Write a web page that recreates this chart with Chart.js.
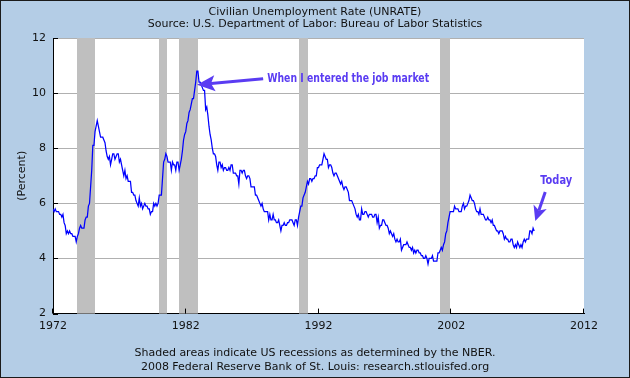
<!DOCTYPE html>
<html>
<head>
<meta charset="utf-8">
<title>Civilian Unemployment Rate</title>
<script src="https://cdn.jsdelivr.net/npm/chart.js@4"></script>
<style>
  html, body { margin: 0; padding: 0; background: #b4cde6; }
  #wrap { width: 630px; height: 378px; }
</style>
</head>
<body>
<div id="wrap"><canvas id="unrate" width="630" height="378"></canvas></div>
<script>
// monthly values, seasonally adjusted, starting Jan 1972
const startYear = 1972;
const rate1970s = [
  5.8, 5.7, 5.8, 5.7, 5.7, 5.7, 5.6, 5.6, 5.5, 5.6, 5.3, 5.2,
  4.9, 5.0, 4.9, 5.0, 4.9, 4.9, 4.8, 4.8, 4.8, 4.6, 4.8, 4.9,
  5.1, 5.2, 5.1, 5.1, 5.1, 5.4, 5.5, 5.5, 5.9, 6.0, 6.6, 7.2,
  8.1, 8.1, 8.6, 8.8, 9.0, 8.8, 8.6, 8.4, 8.4, 8.4, 8.3, 8.2,
  7.9, 7.7, 7.6, 7.7, 7.4, 7.6, 7.8, 7.8, 7.6, 7.7, 7.8, 7.8,
  7.5, 7.6, 7.4, 7.2, 7.0, 7.2, 6.9, 7.0, 6.8, 6.8, 6.8, 6.4,
  6.4, 6.3, 6.3, 6.1, 6.0, 5.9, 6.2, 5.9, 6.0, 5.8, 5.9, 6.0,
  5.9, 5.9, 5.8, 5.8, 5.6, 5.7, 5.7, 6.0, 5.9, 6.0, 5.9, 6.0
];
const rate1980s = [
  6.3, 6.3, 6.3, 6.9, 7.5, 7.6, 7.8, 7.7, 7.5, 7.5, 7.5, 7.2,
  7.5, 7.4, 7.4, 7.2, 7.5, 7.5, 7.2, 7.4, 7.6, 7.9, 8.3, 8.5,
  8.6, 8.9, 9.0, 9.3, 9.4, 9.6, 9.8, 9.8, 10.1, 10.4, 10.8, 10.8,
  10.4, 10.4, 10.3, 10.2, 10.1, 10.1, 9.4, 9.5, 9.2, 8.8, 8.5, 8.3,
  8.0, 7.8, 7.8, 7.7, 7.4, 7.2, 7.5, 7.5, 7.3, 7.4, 7.2, 7.3,
  7.3, 7.2, 7.2, 7.3, 7.2, 7.4, 7.4, 7.1, 7.1, 7.1, 7.0, 7.0,
  6.7, 7.2, 7.2, 7.1, 7.2, 7.2, 7.0, 6.9, 7.0, 7.0, 6.9, 6.6,
  6.6, 6.6, 6.6, 6.3, 6.3, 6.2, 6.1, 6.0, 5.9, 6.0, 5.8, 5.7,
  5.7, 5.7, 5.7, 5.4, 5.6, 5.4, 5.4, 5.6, 5.4, 5.4, 5.3, 5.3,
  5.4, 5.2, 5.0, 5.2, 5.2, 5.3, 5.2, 5.2, 5.3, 5.3, 5.4, 5.4
];
const rate1990s = [
  5.4, 5.3, 5.2, 5.4, 5.4, 5.2, 5.5, 5.7, 5.9, 5.9, 6.2, 6.3,
  6.4, 6.6, 6.8, 6.7, 6.9, 6.9, 6.8, 6.9, 6.9, 7.0, 7.0, 7.3,
  7.3, 7.4, 7.4, 7.4, 7.6, 7.8, 7.7, 7.6, 7.6, 7.3, 7.4, 7.4,
  7.3, 7.1, 7.0, 7.1, 7.1, 7.0, 6.9, 6.8, 6.7, 6.8, 6.6, 6.5,
  6.6, 6.6, 6.5, 6.4, 6.1, 6.1, 6.1, 6.0, 5.9, 5.8, 5.6, 5.5,
  5.6, 5.4, 5.4, 5.8, 5.6, 5.6, 5.7, 5.7, 5.6, 5.5, 5.6, 5.6,
  5.6, 5.5, 5.5, 5.6, 5.6, 5.3, 5.5, 5.1, 5.2, 5.2, 5.4, 5.4,
  5.3, 5.2, 5.2, 5.1, 4.9, 5.0, 4.9, 4.8, 4.9, 4.7, 4.6, 4.7,
  4.6, 4.6, 4.7, 4.3, 4.4, 4.5, 4.5, 4.5, 4.6, 4.5, 4.4, 4.4,
  4.3, 4.4, 4.2, 4.3, 4.2, 4.3, 4.3, 4.2, 4.2, 4.1, 4.1, 4.0
];
const rate2000s = [
  4.0, 4.1, 4.0, 3.8, 4.0, 4.0, 4.0, 4.1, 3.9, 3.9, 3.9, 3.9,
  4.2, 4.2, 4.3, 4.4, 4.3, 4.5, 4.6, 4.9, 5.0, 5.3, 5.5, 5.7,
  5.7, 5.7, 5.7, 5.9, 5.8, 5.8, 5.8, 5.7, 5.7, 5.7, 5.9, 6.0,
  5.8, 5.9, 5.9, 6.0, 6.1, 6.3, 6.2, 6.1, 6.1, 6.0, 5.8, 5.7,
  5.7, 5.6, 5.8, 5.6, 5.6, 5.6, 5.5, 5.4, 5.4, 5.5, 5.4, 5.4,
  5.3, 5.4, 5.2, 5.2, 5.1, 5.0, 5.0, 4.9, 5.0, 5.0, 5.0, 4.9,
  4.7, 4.8, 4.7, 4.7, 4.6, 4.6, 4.7, 4.7, 4.5, 4.4, 4.5, 4.4,
  4.6, 4.5, 4.4, 4.5, 4.4, 4.6, 4.7, 4.6, 4.7, 4.7, 4.7, 5.0,
  5.0, 4.9, 5.1, 5.0
];

// NBER recessions, as decimal years
const recessionStart = [1973.83, 1980.0, 1981.5, 1990.5, 2001.17];
const recessionEnd = [1975.2, 1980.55, 1982.9, 1991.2, 2001.88];

const yearTicks = [1972, 1982, 1992, 2002, 2012];
const percentTicks = [2, 4, 6, 8, 10, 12];

const titleLines = [
  "Civilian Unemployment Rate (UNRATE)",
  "Source: U.S. Department of Labor: Bureau of Labor Statistics"
];
const footerLines = [
  "Shaded areas indicate US recessions as determined by the NBER.",
  "2008 Federal Reserve Bank of St. Louis: research.stlouisfed.org"
];

// callouts, anchored in data units (year, percent)
const notes = [
  { text: "When I entered the job market", at: [1988.13, 10.42], from: [1987.83, 10.52], to: [1982.85, 10.3], fit: 162, head: 17, half: 8 },
  { text: "Today", at: [2008.7, 6.7], from: [2009.08, 6.41], to: [2008.33, 5.36], fit: 32, head: 14, half: 7 }
];

const rates = [...rate1970s, ...rate1980s, ...rate1990s, ...rate2000s];
const points = rates.map((v, i) => ({ x: startYear + i / 12, y: v }));

const FONT = "'DejaVu Sans', Verdana, sans-serif";
const NOTE_COLOR = "#5a3cf2";

function drawArrow(ctx, x0, y0, x1, y1, head, half) {
  const ang = Math.atan2(y1 - y0, x1 - x0);
  const c = Math.cos(ang), s = Math.sin(ang);
  const bx = x1 - head * c, by = y1 - head * s;
  ctx.lineWidth = 3;
  ctx.beginPath();
  ctx.moveTo(x0, y0);
  ctx.lineTo(bx + 3 * c, by + 3 * s);
  ctx.stroke();
  ctx.beginPath();
  ctx.moveTo(x1, y1);
  ctx.lineTo(bx - 1 * c + half * s, by - 1 * s - half * c);
  ctx.lineTo(bx + 3 * c, by + 3 * s);
  ctx.lineTo(bx - 1 * c - half * s, by - 1 * s + half * c);
  ctx.closePath();
  ctx.fill();
}

const fredLook = {
  id: "fredLook",
  beforeDraw(chart) {
    const { ctx, chartArea: a } = chart;
    ctx.save();
    ctx.fillStyle = "#b4cde6";
    ctx.fillRect(0, 0, chart.width, chart.height);
    ctx.fillStyle = "#ffffff";
    ctx.fillRect(a.left, a.top, a.right - a.left, a.bottom - a.top);
    ctx.restore();
  },
  beforeDatasetsDraw(chart) {
    const { ctx, chartArea: a, scales: { x } } = chart;
    ctx.save();
    ctx.fillStyle = "#bfbfbf";
    recessionStart.forEach((s, i) => {
      const x0 = Math.round(x.getPixelForValue(s));
      const x1 = Math.round(x.getPixelForValue(recessionEnd[i]));
      ctx.fillRect(x0, a.top, x1 - x0, a.bottom - a.top);
    });
    ctx.restore();
  },
  afterDatasetsDraw(chart) {
    const { ctx, scales: { x, y } } = chart;
    ctx.save();
    ctx.fillStyle = NOTE_COLOR;
    ctx.strokeStyle = NOTE_COLOR;
    ctx.font = "bold 12.5px 'DejaVu Sans', sans-serif";
    ctx.textBaseline = "alphabetic";
    notes.forEach((n) => {
      drawArrow(ctx,
        x.getPixelForValue(n.from[0]), y.getPixelForValue(n.from[1]),
        x.getPixelForValue(n.to[0]), y.getPixelForValue(n.to[1]),
        n.head, n.half);
      ctx.fillText(n.text, x.getPixelForValue(n.at[0]), y.getPixelForValue(n.at[1]), n.fit);
    });
    ctx.restore();
  },
  afterDraw(chart) {
    const { ctx, chartArea: a, scales: { x, y } } = chart;
    ctx.save();
    ctx.strokeStyle = "#000";
    ctx.lineWidth = 1;
    ctx.beginPath();
    yearTicks.forEach((v) => {
      const px = Math.round(x.getPixelForValue(v)) - 0.5;
      ctx.moveTo(px, a.bottom);
      ctx.lineTo(px, a.bottom - 5);
    });
    percentTicks.forEach((v) => {
      const py = Math.round(y.getPixelForValue(v)) + 0.5;
      ctx.moveTo(a.left, py);
      ctx.lineTo(a.left + 5, py);
    });
    ctx.stroke();
    // outer frame
    ctx.strokeStyle = "#1a1a1a";
    ctx.strokeRect(0.5, 0.5, chart.width - 1, chart.height - 1);
    ctx.restore();
  }
};

new Chart(document.getElementById("unrate").getContext("2d"), {
  type: "line",
  data: {
    datasets: [
      {
        label: "UNRATE",
        data: points,
        borderColor: "#0000ff",
        borderWidth: 1.25,
        pointRadius: 0,
        tension: 0,
        fill: false,
      },
    ],
  },
  plugins: [fredLook],
  options: {
    responsive: false,
    animation: false,
    devicePixelRatio: 1,
    layout: { padding: 0 },
    plugins: {
      legend: { display: false },
      tooltip: { enabled: false },
      title: {
        display: true,
        text: titleLines,
        color: "#111",
        font: { family: FONT, size: 11, weight: "normal", lineHeight: 1.15 },
        padding: { top: 5.5, bottom: 7.2 },
      },
      subtitle: {
        display: true,
        position: "bottom",
        text: footerLines,
        color: "#111",
        font: { family: FONT, size: 11, weight: "normal", lineHeight: "14px" },
        padding: { top: 4.4, bottom: 4 },
      },
    },
    scales: {
      x: {
        type: "linear",
        min: 1972,
        max: 2012,
        afterBuildTicks: (scale) => { scale.ticks = yearTicks.map((v) => ({ value: v })); },
        afterFit: (scale) => { scale.height = 28; },
        ticks: {
          color: "#111",
          font: { family: FONT, size: 11 },
          padding: 6,
          maxRotation: 0,
          callback: (v) => String(v),
        },
        grid: { display: false, drawTicks: false },
        border: { display: true, color: "#000", width: 1 },
      },
      y: {
        min: 2,
        max: 12,
        afterBuildTicks: (scale) => { scale.ticks = percentTicks.map((v) => ({ value: v })); },
        afterFit: (scale) => { scale.width = 53; },
        ticks: {
          color: "#111",
          font: { family: FONT, size: 11 },
          padding: 7,
          callback: (v) => String(v),
        },
        grid: {
          drawTicks: false,
          color: (c) => (c.tick && c.tick.value === 2 ? "rgba(0,0,0,0)" : "#b0b0b0"),
          lineWidth: 1,
        },
        border: { display: true, color: "#000", width: 1 },
        title: {
          display: true,
          text: "(Percent)",
          color: "#111",
          font: { family: FONT, size: 11 },
          padding: { top: 16, bottom: 0 },
        },
      },
      // empty right-hand margin so titles stay centred on the whole page
      gutter: {
        position: "right",
        min: 0,
        max: 1,
        afterFit: (scale) => { scale.width = 46; },
        ticks: { display: false },
        grid: { display: false, drawTicks: false },
        border: { display: false },
      },
    },
  },
});
</script>
</body>
</html>
